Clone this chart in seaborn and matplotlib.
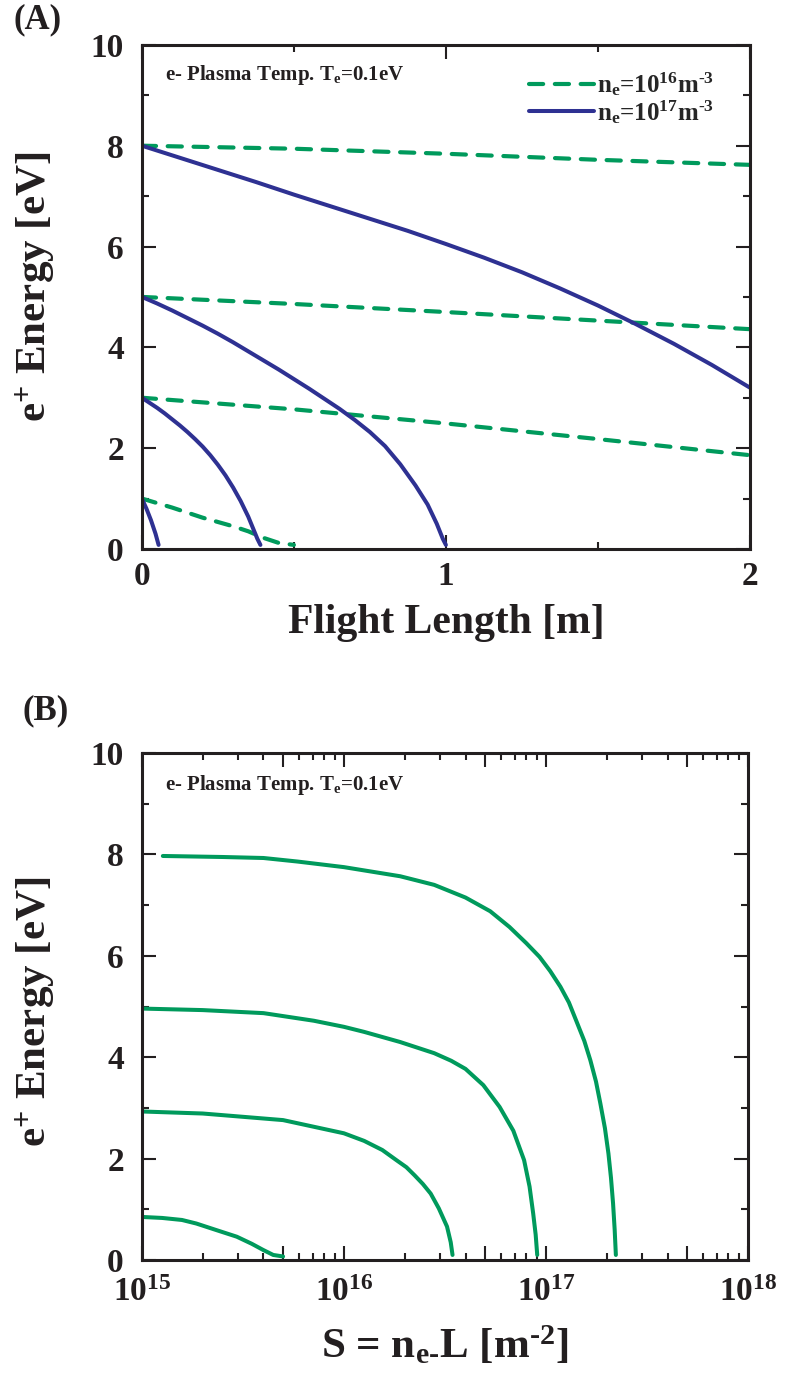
import numpy as np
import pandas as pd
import matplotlib
matplotlib.use("Agg")
import matplotlib.pyplot as plt
import seaborn as sns
from matplotlib.ticker import MultipleLocator, FixedLocator, LogLocator, FuncFormatter, NullFormatter
from matplotlib.lines import Line2D

# ---------------- data ----------------
# Panel A: e+ energy [eV] vs flight length [m]
# n_e = 1e17 m^-3 (solid, blue)
A17_E8_L = [0, 0.125, 0.25, 0.375, 0.5, 0.625, 0.75, 0.875, 1.0, 1.125, 1.25, 1.375,
            1.5, 1.625, 1.75, 1.875, 2.0]
A17_E8_E = [8.0, 7.76, 7.52, 7.28, 7.03, 6.79, 6.55, 6.31, 6.05, 5.78, 5.49, 5.17,
            4.83, 4.46, 4.07, 3.65, 3.2]
A17_E5_L = [0, 0.05, 0.1, 0.15, 0.2, 0.25, 0.3, 0.35, 0.4, 0.45, 0.5, 0.55, 0.6, 0.65,
            0.7, 0.75, 0.8, 0.85, 0.9, 0.94, 0.97, 0.99, 1.0]
A17_E5_E = [5.0, 4.87, 4.73, 4.58, 4.43, 4.27, 4.1, 3.92, 3.74, 3.56, 3.37, 3.18, 2.98, 2.78,
            2.56, 2.32, 2.04, 1.68, 1.26, 0.88, 0.5, 0.2, 0.08]
A17_E3_L = [0, 0.025, 0.05, 0.075, 0.1, 0.125, 0.15, 0.175, 0.2, 0.225, 0.25, 0.275,
            0.3, 0.325, 0.35, 0.365, 0.38, 0.39]
A17_E3_E = [3.0, 2.9, 2.8, 2.69, 2.57, 2.45, 2.32, 2.18, 2.03, 1.86, 1.67, 1.46,
            1.22, 0.95, 0.64, 0.42, 0.2, 0.08]
A17_E1_L = [0, 0.015, 0.03, 0.045, 0.055]
A17_E1_E = [1.0, 0.8, 0.57, 0.3, 0.08]
# n_e = 1e16 m^-3 (dashed, green)
A16_E8_L = [0, 0.5, 1.0, 1.5, 2.0]
A16_E8_E = [8.0, 7.94, 7.84, 7.72, 7.62]
A16_E5_L = [0, 0.5, 1.0, 1.5, 2.0]
A16_E5_E = [5.0, 4.86, 4.7, 4.53, 4.36]
A16_E3_L = [0, 0.5, 1.0, 1.5, 2.0]
A16_E3_E = [3.0, 2.77, 2.49, 2.18, 1.86]
A16_E1_L = [0, 0.1, 0.2, 0.3, 0.35, 0.4, 0.45, 0.5]
A16_E1_E = [1.0, 0.82, 0.62, 0.45, 0.35, 0.22, 0.12, 0.08]

# Panel B: e+ energy [eV] vs S = n_e * L [m^-2]
B_E8_S = [1.27e15, 2.5e15, 4.0e15, 5.9e15, 1.0e16, 1.9e16, 2.8e16, 4.0e16, 5.3e16, 6.6e16,
          8.0e16, 9.3e16, 1.05e17, 1.18e17, 1.30e17, 1.41e17, 1.55e17, 1.66e17, 1.77e17,
          1.86e17, 1.96e17, 2.04e17, 2.10e17, 2.15e17, 2.19e17, 2.22e17]
B_E8_E = [7.97, 7.95, 7.93, 7.86, 7.75, 7.57, 7.40, 7.15, 6.88, 6.57,
          6.25, 5.98, 5.70, 5.39, 5.08, 4.73, 4.32, 3.94, 3.52,
          3.09, 2.60, 2.10, 1.62, 1.12, 0.60, 0.1]
B_E5_S = [1.0e15, 2.0e15, 4.0e15, 7.1e15, 1.0e16, 1.26e16, 1.9e16, 2.8e16, 3.4e16, 4.0e16,
          4.9e16, 5.9e16, 6.9e16, 7.8e16, 8.3e16, 8.65e16, 8.9e16, 9.06e16]
B_E5_E = [4.96, 4.93, 4.87, 4.72, 4.60, 4.50, 4.30, 4.08, 3.93, 3.77,
          3.45, 3.02, 2.55, 1.97, 1.45, 0.92, 0.5, 0.1]
B_E3_S = [1.0e15, 2.0e15, 5.0e15, 1.0e16, 1.26e16, 1.55e16, 1.82e16, 2.04e16, 2.24e16,
          2.46e16, 2.69e16, 2.95e16, 3.24e16, 3.38e16, 3.45e16]
B_E3_E = [2.93, 2.89, 2.76, 2.50, 2.35, 2.17, 1.97, 1.83, 1.67, 1.50, 1.31, 1.02, 0.66, 0.35, 0.1]
B_E1_S = [1.0e15, 1.26e15, 1.58e15, 1.86e15, 2.34e15, 2.95e15, 3.5e15, 3.98e15, 4.47e15, 5.0e15]
B_E1_E = [0.85, 0.83, 0.79, 0.72, 0.59, 0.46, 0.32, 0.2, 0.1, 0.07]

Y_TICKS = [0, 2, 4, 6, 8, 10]
A_X_TICKS = [0, 1, 2]
B_X_MAJOR = [1e15, 5e15, 1e16, 5e16, 1e17, 5e17, 1e18]

LEGEND_LABELS = [r"n$_\mathrm{e}$=10$^{16}$m$^{\text{-3}}$", r"n$_\mathrm{e}$=10$^{17}$m$^{\text{-3}}$"]
ANNOT = r"e- Plasma Temp. T$_\mathrm{e}$=0.1eV"
YLABEL = r"e$^{\text{+}}$ Energy [eV]"

# ---------------- style ----------------
sns.set_theme(style="ticks")
plt.rcParams["font.family"] = ["Liberation Serif", "DejaVu Serif"]
plt.rcParams["font.weight"] = "bold"
plt.rcParams["mathtext.fontset"] = "custom"
for k in ["rm", "it", "bf", "sf"]:
    plt.rcParams["mathtext." + k] = "Liberation Serif:bold"
plt.rcParams["mathtext.default"] = "rm"

GREEN = "#009a5c"
BLUE = "#2e3192"
INK = "#231f20"

fig = plt.figure(figsize=(7.97, 13.81), dpi=100)
axA = fig.add_axes([0.178, 0.6025, 0.7629, 0.365])
axB = fig.add_axes([0.178, 0.0876, 0.7604, 0.3671])


def style(ax):
    for s in ax.spines.values():
        s.set_visible(True)
        s.set_linewidth(2.2)
        s.set_color(INK)
    ax.tick_params(which="both", direction="in", top=True, right=True,
                   color=INK, width=1.5, labelcolor=INK)
    ax.tick_params(which="major", length=10, labelsize=24)
    ax.tick_params(which="minor", length=5)
    ax.tick_params(axis="y", which="major", pad=13)
    ax.tick_params(axis="x", which="major", pad=9)
    ax.set_ylim(0, 10)
    ax.yaxis.set_major_locator(FixedLocator(Y_TICKS))
    ax.yaxis.set_minor_locator(MultipleLocator(1))


dash = (0, (3.4, 2.8))

def dashed(ax, x, y):
    sns.lineplot(x=x, y=y, ax=ax, color=GREEN, linewidth=3.0, linestyle=dash,
                 dash_capstyle="round", estimator=None, sort=False)

def solid(ax, x, y, c):
    sns.lineplot(x=x, y=y, ax=ax, color=c, linewidth=2.9,
                 solid_capstyle="round", solid_joinstyle="round",
                 estimator=None, sort=False)

# Panel A
for L, E in [(A16_E8_L, A16_E8_E), (A16_E5_L, A16_E5_E), (A16_E3_L, A16_E3_E), (A16_E1_L, A16_E1_E)]:
    dashed(axA, L, E)
for L, E in [(A17_E8_L, A17_E8_E), (A17_E5_L, A17_E5_E), (A17_E3_L, A17_E3_E), (A17_E1_L, A17_E1_E)]:
    solid(axA, L, E, BLUE)

style(axA)
axA.set_xlim(0, 2)
axA.xaxis.set_major_locator(FixedLocator(A_X_TICKS))
axA.xaxis.set_minor_locator(MultipleLocator(0.5))
axA.set_xlabel("Flight Length [m]", fontsize=30, fontweight="bold", labelpad=8, color=INK)
axA.set_ylabel(YLABEL, fontsize=31, fontweight="bold", color=INK)
axA.yaxis.set_label_coords(-0.14, 0.52)
axA.text(0.038, 0.93, ANNOT, transform=axA.transAxes, fontsize=15,
         fontweight="bold", color=INK, va="baseline")
handles = [Line2D([], [], color=GREEN, lw=3.0, linestyle=dash, dash_capstyle="round"),
           Line2D([], [], color=BLUE, lw=2.9)]
axA.legend(handles, LEGEND_LABELS, loc="upper right", bbox_to_anchor=(0.962, 0.975),
           frameon=False, handlelength=2.6, handletextpad=0.15,
           labelspacing=0.0, borderpad=0, prop={"weight": "bold", "size": 18})

# Panel B
for S, E in [(B_E8_S, B_E8_E), (B_E5_S, B_E5_E), (B_E3_S, B_E3_E), (B_E1_S, B_E1_E)]:
    solid(axB, S, E, GREEN)

style(axB)
axB.tick_params(axis="x", which="major", pad=12)
axB.set_xscale("log")
axB.set_xlim(1e15, 1e18)
axB.xaxis.set_major_locator(FixedLocator(B_X_MAJOR))
axB.xaxis.set_minor_locator(LogLocator(base=10, subs=[2, 3, 4, 6, 7, 8, 9], numticks=20))
axB.xaxis.set_minor_formatter(NullFormatter())

def fmt(v, p):
    lv = np.log10(v)
    if abs(lv - round(lv)) < 1e-6:
        return r"10$^{%d}$" % int(round(lv))
    return ""

axB.xaxis.set_major_formatter(FuncFormatter(fmt))
axB.set_xlabel(r"S = n$_\mathrm{e\text{-}}$L [m$^{\text{-2}}$]", fontsize=31,
               fontweight="bold", labelpad=12, color=INK)
axB.set_ylabel(YLABEL, fontsize=31, fontweight="bold", color=INK)
axB.yaxis.set_label_coords(-0.14, 0.49)
axB.text(0.038, 0.927, ANNOT, transform=axB.transAxes, fontsize=15,
         fontweight="bold", color=INK, va="baseline")

fig.text(38 / 797, 1 - 20 / 1381, "(A)", fontsize=25, fontweight="bold",
         ha="center", va="center", color=INK)
fig.text(46 / 797, 1 - 711 / 1381, "(B)", fontsize=25, fontweight="bold",
         ha="center", va="center", color=INK)

fig.savefig("out.png", dpi=100)
